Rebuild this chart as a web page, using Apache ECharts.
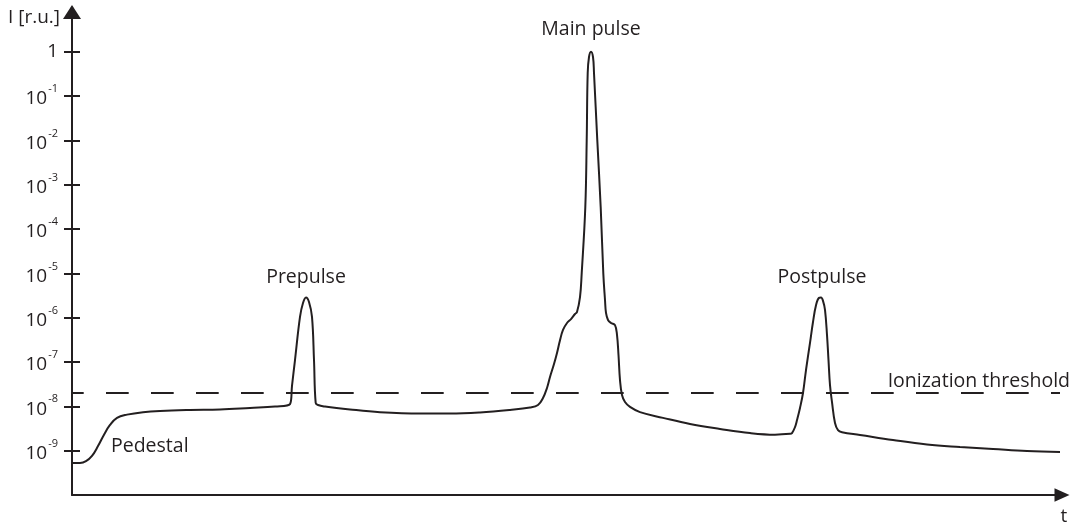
<!DOCTYPE html>
<html>
<head>
<meta charset="utf-8">
<title>Laser pulse intensity contrast</title>
<script src="https://cdn.jsdelivr.net/npm/echarts@6/dist/echarts.min.js"></script>
<style>
  html, body { margin: 0; padding: 0; background: #ffffff; }
  #chart { width: 1072px; height: 530px; }
</style>
</head>
<body>
<div id="chart"></div>
<script>
// Time axis (arbitrary units) and relative intensity of the pulse train
const pulseTime = [
  0, 8, 14, 20, 26, 32, 38, 45, 55, 71, 88, 118, 148, 178, 203, 218,
  220, 223, 228, 231, 234, 237, 240, 242, 243.7, 246, 253, 278, 308, 348, 378, 408, 438, 458, 466,
  471, 475, 478, 482, 485, 488, 491, 495, 499, 503, 505, 508, 509.7, 513.3, 514.7, 515.7, 517, 519,
  521, 522, 525.3, 528.7, 531.3, 533, 534, 536, 539, 543, 545, 546.5, 548, 550, 553, 558, 568, 591,
  618, 648, 678, 703, 718,
  720, 723, 725, 728, 731, 734, 738, 741, 744, 747, 749, 751, 753, 755, 756.5, 758, 760, 763, 766, 770,
  788, 821, 855, 888, 921, 955, 988
];
const pulseIntensity = [
  5.3e-10, 5.3e-10, 5.8e-10, 7.6e-10, 1.27e-9, 2.3e-9, 3.8e-9, 5.5e-9, 6.5e-9, 7.4e-9, 7.9e-9, 8.3e-9, 8.5e-9, 9.2e-9, 9.9e-9, 1.12e-8,
  2.9e-8, 1.11e-7, 1.04e-6, 2.14e-6, 2.85e-6, 2.26e-6, 1.04e-6, 1.11e-7, 1.19e-8, 1.07e-8, 9.9e-9, 8.5e-9, 7.4e-9, 6.9e-9, 6.9e-9, 7.3e-9, 8.3e-9, 9.4e-9, 1.07e-8,
  1.54e-8, 2.6e-8, 4.6e-8, 9.0e-8, 1.6e-7, 3.1e-7, 5.3e-7, 7.6e-7, 9.3e-7, 1.21e-6, 1.34e-6, 2.9e-6, 1.0e-5, 3.1e-4, 1.0e-2, 0.33, 0.76, 1,
  0.76, 0.33, 1.0e-2, 3.1e-4, 1.0e-5, 2.5e-6, 1.28e-6, 8.9e-7, 7.6e-7, 6.8e-7, 4.1e-7, 1.44e-7, 3.9e-8, 1.8e-8, 1.25e-8, 9.7e-9, 7.4e-9, 5.5e-9,
  4.0e-9, 3.1e-9, 2.5e-9, 2.3e-9, 2.4e-9,
  2.5e-9, 3.4e-9, 4.9e-9, 9.2e-9, 2.0e-8, 6.6e-8, 2.7e-7, 8.0e-7, 1.9e-6, 2.8e-6, 2.85e-6, 2.4e-6, 1.5e-6, 4.1e-7, 1.1e-7, 3.0e-8, 1.25e-8, 4.2e-9, 2.9e-9, 2.6e-9,
  2.26e-9, 1.74e-9, 1.38e-9, 1.21e-9, 1.09e-9, 9.8e-10, 9.3e-10
];

// Ionization threshold level and the time span it is drawn over
const thresholdLevel = 2.0e-8;
const thresholdSpan = [0, 988];

// Decade tick values on the intensity axis
const tickValues = [1, 1e-1, 1e-2, 1e-3, 1e-4, 1e-5, 1e-6, 1e-7, 1e-8, 1e-9];

// Annotated features: name, time and intensity of the point they describe
const featureNames = ['Pedestal', 'Prepulse', 'Main pulse', 'Postpulse', 'Ionization threshold'];
const featureTimes = [38, 234, 519, 749, 988];
const featureIntensity = [3.8e-9, 2.85e-6, 1, 2.85e-6, 2.0e-8];

const INK = '#231f20';
const FONT = '"Open Sans", "DejaVu Sans", sans-serif';

// Label placement relative to each annotated point
const featureLabelStyle = {
  'Pedestal':             { position: [1, 21], align: 'left',  verticalAlign: 'middle' },
  'Prepulse':             { position: [0, -20], align: 'center', verticalAlign: 'middle' },
  'Main pulse':           { position: [0, -22], align: 'center', verticalAlign: 'middle' },
  'Postpulse':            { position: [1, -20], align: 'center', verticalAlign: 'middle' },
  'Ionization threshold': { position: [10, -12], align: 'right', verticalAlign: 'middle' }
};

const pulseData = pulseTime.map((t, i) => [t, pulseIntensity[i]]);
const thresholdData = thresholdSpan.map(t => [t, thresholdLevel]);

const markData = featureNames.map((name, i) => ({
  name: name,
  coord: [featureTimes[i], featureIntensity[i]],
  label: Object.assign({ show: true, formatter: '{b}' }, featureLabelStyle[name])
}));

function decadeLabel(v) {
  const e = Math.round(Math.log10(v));
  if (e === 0) return '{one|1}';
  return '{b|10}{s|' + e + '}';
}

const axisRich = {
  one: { fontSize: 19, fontFamily: FONT, color: INK },
  b: { fontSize: 19, fontFamily: FONT, color: INK, padding: [6, 0, 0, 0] },
  s: { fontSize: 11, fontFamily: FONT, color: INK, verticalAlign: 'top', padding: [0, 0, 0, 1] }
};

const chart = echarts.init(document.getElementById('chart'), null, { renderer: 'canvas' });

chart.setOption({
  animation: false,
  backgroundColor: '#ffffff',
  textStyle: { fontFamily: FONT, color: INK },
  grid: { left: 72, right: 10, top: 7.4, bottom: 35, containLabel: false },
  xAxis: {
    type: 'value',
    min: 0,
    max: 990,
    name: 't',
    nameLocation: 'end',
    nameGap: 2,
    nameTextStyle: { fontSize: 19, fontFamily: FONT, color: INK, align: 'center', verticalAlign: 'top', padding: [12, 0, 0, 0] },
    axisLine: {
      show: true,
      onZero: false,
      symbol: ['none', 'triangle'],
      symbolSize: [13.6, 15],
      lineStyle: { color: INK, width: 2 }
    },
    axisTick: { show: false },
    axisLabel: { show: false },
    splitLine: { show: false }
  },
  yAxis: [
    {
      type: 'log',
      logBase: 10,
      min: 1e-10,
      max: 10,
      position: 'left',
      name: 'I [r.u.]',
      nameLocation: 'end',
      nameGap: -10,
      nameTextStyle: { fontSize: 19, fontFamily: FONT, color: INK, align: 'right', verticalAlign: 'middle', padding: [0, 12, 0, 0] },
      axisLine: {
        show: true,
        onZero: false,
        symbol: ['none', 'triangle'],
        symbolSize: [18, 14],
        symbolOffset: [0, -4.6],
        lineStyle: { color: INK, width: 2 }
      },
      axisTick: {
        show: true,
        customValues: tickValues,
        length: 8,
        lineStyle: { color: INK, width: 2 }
      },
      axisLabel: {
        show: true,
        customValues: tickValues,
        margin: 14,
        formatter: decadeLabel,
        rich: axisRich
      },
      splitLine: { show: false }
    },
    {
      type: 'log',
      logBase: 10,
      min: 1e-10,
      max: 10,
      position: 'left',
      axisLine: { show: false },
      axisTick: {
        show: true,
        inside: true,
        customValues: tickValues,
        length: 8,
        lineStyle: { color: INK, width: 2 }
      },
      axisLabel: { show: false },
      splitLine: { show: false }
    }
  ],
  series: [
    {
      name: 'Intensity',
      type: 'line',
      data: pulseData,
      showSymbol: false,
      symbol: 'none',
      smooth: 0.4,
      lineStyle: { color: INK, width: 2 },
      markPoint: {
        symbol: 'circle',
        symbolSize: 0,
        silent: true,
        label: { fontSize: 19.5, fontFamily: FONT, color: INK },
        data: markData
      },
      z: 3
    },
    {
      name: 'Ionization threshold',
      type: 'line',
      data: thresholdData,
      showSymbol: false,
      symbol: 'none',
      lineStyle: { color: INK, width: 2, type: [22.7, 22.3], dashOffset: 11 },
      z: 2
    }
  ]
});
</script>
</body>
</html>
